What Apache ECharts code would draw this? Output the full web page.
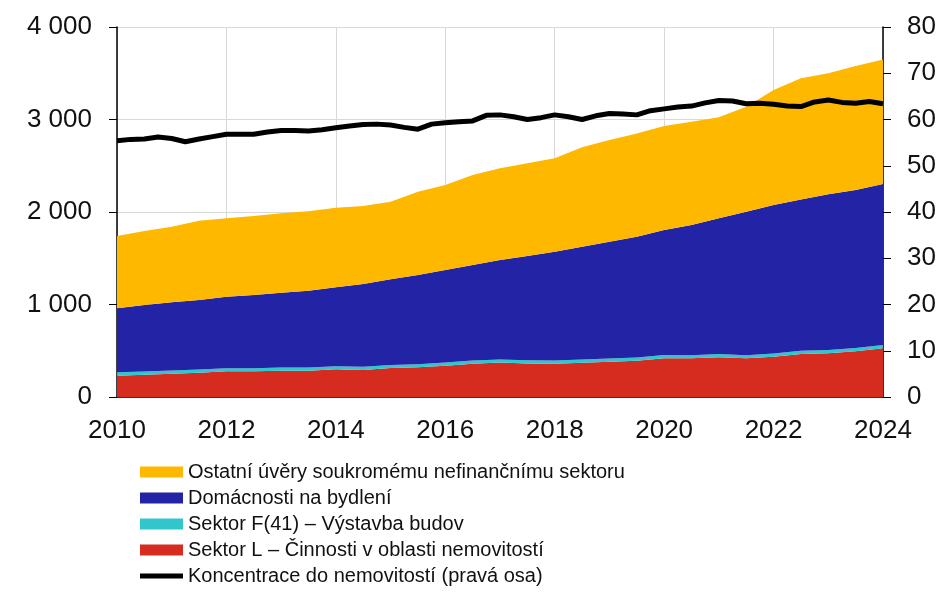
<!DOCTYPE html>
<html>
<head>
<meta charset="utf-8">
<title>Úvěry a koncentrace do nemovitostí</title>
<script src="https://cdn.jsdelivr.net/npm/echarts@6/dist/echarts.min.js"></script>
<style>
  html, body { margin: 0; padding: 0; background: #fff; }
  #chart { width: 941px; height: 605px; }
</style>
</head>
<body>
<div id="chart"></div>
<script>
// pololetní body pro plochy (mld. Kč)
var years = [2010, 2010.5, 2011, 2011.5, 2012, 2012.5, 2013, 2013.5, 2014, 2014.5,
  2015, 2015.5, 2016, 2016.5, 2017, 2017.5, 2018, 2018.5, 2019, 2019.5,
  2020, 2020.5, 2021, 2021.5, 2022, 2022.5, 2023, 2023.5, 2024];
var sektorL = [231, 241, 252, 263, 278, 278, 285, 285, 299, 292,
  314, 321, 339, 360, 372, 362, 360, 371, 382, 393,
  418, 418, 429, 418, 436, 465, 472, 494, 526];
var sektorF = [36, 35, 34, 33, 33, 34, 33, 34, 33, 34,
  33, 34, 35, 34, 33, 34, 35, 34, 35, 34,
  36, 34, 35, 34, 35, 34, 35, 36, 36];
var domacnosti = [692, 719, 737, 753, 774, 791, 810, 831, 854, 896,
  925, 964, 999, 1033, 1076, 1128, 1176, 1220, 1262, 1306,
  1351, 1407, 1468, 1552, 1605, 1637, 1684, 1708, 1741];
var ostatni = [782, 800, 818, 857, 847, 854, 858, 858, 861, 843,
  840, 901, 919, 973, 991, 1002, 1009, 1075, 1099, 1117,
  1125, 1118, 1091, 1135, 1243, 1309, 1308, 1340, 1347];

// čtvrtletní body pro koncentraci (%)
var quarters = [];
for (var y = 2010; y <= 2024; y += 0.25) quarters.push(y);
var koncentrace = [55.4, 55.7, 55.8, 56.2, 55.9, 55.2, 55.8, 56.3,
  56.8, 56.8, 56.8, 57.3, 57.6, 57.6, 57.5, 57.8,
  58.2, 58.6, 58.9, 59.0, 58.8, 58.3, 57.9, 59.0,
  59.3, 59.5, 59.7, 60.9, 61.0, 60.6, 60.0, 60.4,
  61.0, 60.6, 60.0, 60.8, 61.3, 61.2, 61.0, 61.9,
  62.3, 62.7, 62.9, 63.6, 64.1, 64.0, 63.4, 63.5,
  63.3, 62.9, 62.8, 63.8, 64.2, 63.7, 63.5, 63.9, 63.4];

var names = ['Ostatní úvěry soukromému nefinančnímu sektoru', 'Domácnosti na bydlení',
  'Sektor F(41) – Výstavba budov', 'Sektor L – Činnosti v oblasti nemovitostí',
  'Koncentrace do nemovitostí (pravá osa)'];

function areaSeries(name, color, values) {
  return {
    name: name,
    type: 'line',
    xAxisIndex: 1,
    stack: 'total',
    symbol: 'none',
    color: color,
    lineStyle: { width: 0 },
    areaStyle: { color: color, opacity: 1 },
    data: values
  };
}

var font = 'Liberation Sans, Arial, sans-serif';
var chart = echarts.init(document.getElementById('chart'));
chart.setOption({
  animation: false,
  textStyle: { fontFamily: font },
  grid: { left: 117, right: 58, top: 27, bottom: 208 },
  legend: {
    orient: 'vertical',
    left: 140,
    top: 462,
    padding: 0,
    itemWidth: 43,
    itemHeight: 11,
    itemGap: 6,
    textStyle: { fontFamily: font, fontSize: 20, color: '#111' },
    data: [
      { name: names[0], icon: 'rect' },
      { name: names[1], icon: 'rect' },
      { name: names[2], icon: 'rect' },
      { name: names[3], icon: 'rect' },
      { name: names[4], icon: 'path://M0,0H86V10H0Z' }
    ]
  },
  xAxis: [
    {
      type: 'value',
      min: 2010,
      max: 2024,
      interval: 2,
      axisLine: { lineStyle: { color: '#000', width: 1.5 } },
      axisTick: { show: false },
      axisLabel: {
        margin: 21, fontSize: 26, color: '#111',
        formatter: function (v) { return String(v); }
      },
      splitLine: { show: true, lineStyle: { color: '#d9d9d9', width: 1 } }
    },
    {
      type: 'category',
      show: false,
      boundaryGap: false,
      data: years
    }
  ],
  yAxis: [
    {
      type: 'value',
      min: 0,
      max: 4000,
      interval: 1000,
      axisLine: { show: true, lineStyle: { color: '#000', width: 1.5 } },
      axisTick: { show: true, length: 8, lineStyle: { color: '#000' } },
      axisLabel: {
        margin: 25, fontSize: 26, color: '#111',
        formatter: function (v) { return v === 0 ? '0' : (v / 1000) + ' 000'; }
      },
      splitLine: { show: true, lineStyle: { color: '#d9d9d9', width: 1 } }
    },
    {
      type: 'value',
      min: 0,
      max: 80,
      interval: 10,
      axisLine: { show: true, lineStyle: { color: '#000', width: 1.5 } },
      axisTick: { show: true, length: 8, lineStyle: { color: '#000' } },
      axisLabel: { margin: 24, fontSize: 26, color: '#111' },
      splitLine: { show: false }
    }
  ],
  series: [
    areaSeries(names[3], '#d62b1f', sektorL),
    areaSeries(names[2], '#30c6cc', sektorF),
    areaSeries(names[1], '#2323a6', domacnosti),
    areaSeries(names[0], '#ffb800', ostatni),
    {
      name: names[4],
      type: 'line',
      xAxisIndex: 0,
      yAxisIndex: 1,
      symbol: 'none',
      color: '#000',
      lineStyle: { color: '#000', width: 5 },
      z: 5,
      data: quarters.map(function (q, i) { return [q, koncentrace[i]]; })
    }
  ]
});
</script>
</body>
</html>
